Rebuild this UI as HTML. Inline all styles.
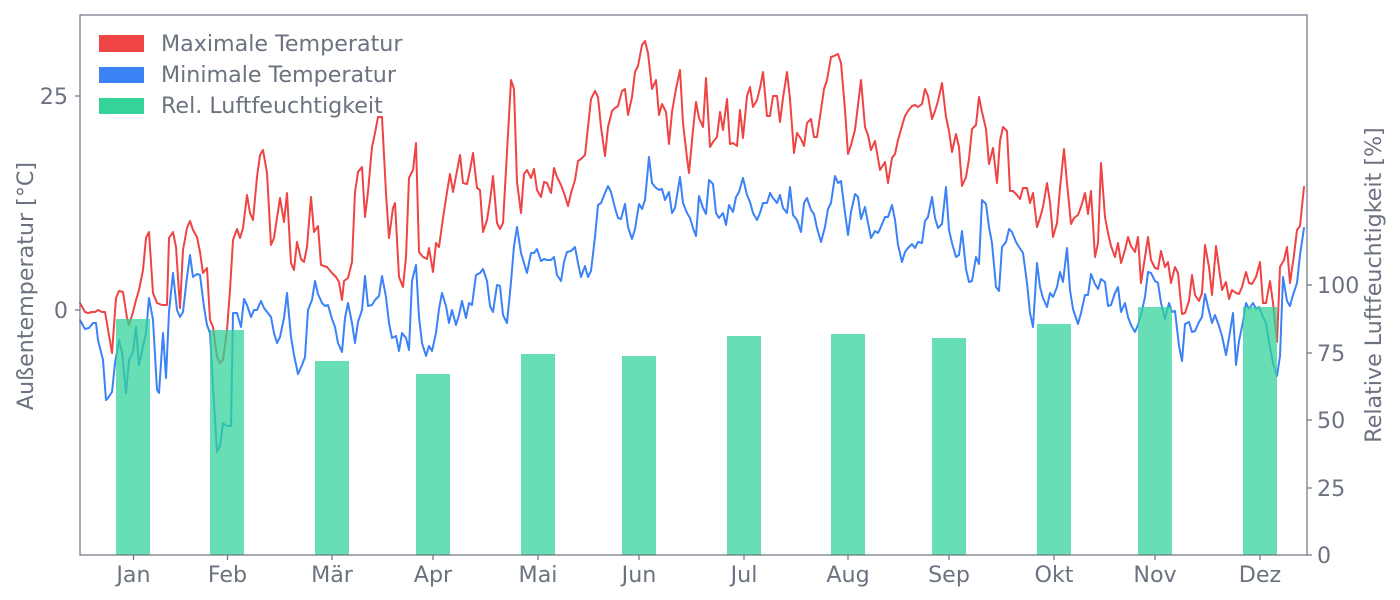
<!DOCTYPE html>
<html>
<head>
<meta charset="utf-8">
<style>
html,body{margin:0;padding:0;background:#fff;}
svg{display:block;}
text{font-family:"DejaVu Sans","Liberation Sans",sans-serif;fill:#6b7280;font-size:22.2px;}
</style>
</head>
<body>
<svg width="1400" height="600" viewBox="0 0 1400 600" xmlns="http://www.w3.org/2000/svg">
<rect x="0" y="0" width="1400" height="600" fill="#fff"/>
<!-- lines -->
<polyline fill="none" stroke="#ef4444" stroke-width="2" stroke-linejoin="round" stroke-linecap="round" points="80,303 85,312 88,313 92,312 95,312 98,310 102,312 105,312 112,353 116,298 119,291 123,292 127,318 129,325 133,312 136,300 139,290 143,270 146,238 149,232 153,293 157,303 162,305 167,305 169,238 173,232 176,247 180,308 183,250 187,228 190,221 193,230 197,237 200,252 203,273 207,268 210,320 213,327 217,357 220,363 223,360 227,330 230,290 233,240 237,229 240,238 243,228 247,195 250,213 253,220 257,177 260,155 263,150 267,173 271,245 274,238 280,198 284,222 287,193 291,263 294,270 297,242 301,259 304,262 307,247 311,197 314,232 318,226 321,265 327,267 332,273 336,277 339,282 342,300 344,281 348,278 352,262 355,192 358,172 362,167 365,217 368,192 372,147 375,133 378,117 382,117 386,193 389,238 393,208 395,203 399,277 403,287 406,257 409,178 413,170 416,143 419,252 423,257 427,259 429,248 433,272 436,243 439,247 443,218 447,192 450,174 453,192 460,155 463,183 467,184 470,170 473,153 477,188 480,190 483,232 487,220 490,201 493,176 497,223 500,229 503,223 507,152 511,80 514,89 517,182 521,213 524,174 527,170 531,178 534,169 537,190 541,197 544,182 547,183 551,193 554,168 557,177 561,185 564,193 568,206 571,193 575,180 578,161 581,159 585,155 588,127 591,99 595,91 598,97 601,127 605,156 608,127 612,111 615,108 618,106 622,91 625,89 628,115 632,97 635,72 638,66 642,45 645,41 648,53 652,89 656,80 659,115 662,104 666,112 669,144 672,112 676,89 680,70 683,123 687,158 689,173 693,130 696,102 699,118 703,127 706,78 710,147 713,142 717,137 720,112 723,130 727,99 730,144 733,143 737,146 740,110 743,138 747,96 750,87 753,107 757,100 760,88 763,72 767,116 770,116 773,96 777,96 780,122 783,98 787,72 790,99 794,153 797,133 801,139 804,146 807,123 811,119 814,137 817,137 821,110 824,89 827,80 831,57 834,56 838,54 841,63 845,110 848,154 851,145 855,130 858,105 861,80 865,127 868,135 871,150 875,141 880,170 885,162 888,183 892,158 895,154 898,140 902,126 905,116 908,111 912,106 915,105 918,107 922,104 925,89 928,96 932,119 935,111 938,101 942,83 946,117 949,131 952,152 956,134 959,147 962,186 966,177 969,159 972,129 976,125 979,97 982,112 986,129 989,164 993,148 997,183 1000,141 1003,127 1007,131 1010,191 1013,191 1017,195 1020,199 1023,188 1027,188 1030,203 1033,193 1037,227 1040,218 1043,207 1047,183 1050,202 1053,237 1057,223 1060,188 1064,149 1067,183 1071,224 1074,218 1078,215 1081,207 1085,193 1088,214 1091,191 1095,257 1098,243 1101,163 1105,217 1108,233 1111,246 1115,257 1118,243 1121,263 1125,250 1128,237 1131,246 1135,252 1138,237 1141,283 1145,257 1148,237 1151,260 1155,268 1158,269 1161,251 1165,267 1168,262 1171,283 1175,267 1178,273 1182,314 1185,313 1189,301 1192,275 1195,295 1199,301 1202,293 1205,245 1209,267 1212,295 1216,246 1219,268 1222,290 1226,282 1229,299 1232,290 1236,293 1239,294 1242,287 1246,272 1249,283 1252,284 1256,277 1260,262 1263,303 1266,303 1270,281 1273,303 1277,342 1280,267 1284,260 1287,247 1290,283 1294,255 1297,230 1300,226 1304,187"/>
<polyline fill="none" stroke="#3b82f6" stroke-width="2" stroke-linejoin="round" stroke-linecap="round" points="80,320 85,329 89,328 93,323 96,323 98,340 103,360 106,400 108,398 112,392 115,363 119,340 122,352 126,393 129,360 133,352 136,327 139,365 146,333 149,298 153,320 157,390 159,393 163,333 166,378 169,312 173,273 177,310 180,317 183,312 187,277 190,255 193,277 197,274 200,275 204,307 207,325 210,333 213,387 217,452 220,446 223,423 227,426 231,426 233,313 237,313 241,327 244,299 247,305 251,317 254,310 257,310 261,301 264,308 271,317 274,333 277,343 280,337 284,318 287,293 291,337 294,355 298,374 302,365 305,357 308,310 312,300 315,281 318,294 322,303 325,306 328,305 332,319 335,327 338,343 342,352 345,318 348,303 352,323 355,343 358,322 362,310 365,276 368,306 372,305 375,300 379,296 382,276 386,297 389,323 392,338 396,336 399,351 402,333 406,338 409,350 412,281 416,265 419,317 422,343 426,356 429,346 432,351 436,333 439,309 442,293 446,306 449,323 452,310 456,325 459,315 462,301 466,318 469,303 472,305 476,275 480,273 483,269 487,281 490,306 493,312 497,285 500,286 503,315 507,323 511,282 514,246 517,227 521,253 524,263 527,273 531,253 534,253 537,249 541,261 544,259 547,260 551,260 554,257 557,275 561,281 564,262 567,252 571,251 575,247 578,263 581,277 585,266 588,277 591,271 595,237 598,205 601,203 605,193 608,186 611,192 615,208 618,218 621,219 625,204 628,227 632,239 635,229 639,204 642,209 645,200 649,157 652,183 655,187 659,190 662,189 665,200 669,192 672,213 675,208 680,177 683,203 687,213 690,218 693,228 696,236 699,196 703,208 706,214 709,180 713,184 716,213 719,218 723,213 726,225 729,205 733,212 736,197 739,192 743,178 747,195 750,202 753,213 757,220 760,213 763,203 767,203 770,193 773,198 777,203 780,195 783,208 787,213 790,187 793,215 797,220 801,232 804,203 807,198 811,210 814,214 817,228 821,242 825,227 828,209 831,203 835,176 838,183 841,181 845,213 848,235 851,212 855,194 858,197 861,219 865,207 868,223 871,238 875,231 878,233 880,229 885,217 888,217 892,205 895,220 898,245 902,262 905,252 908,248 912,244 915,248 918,242 922,243 925,221 928,217 932,197 935,218 938,228 942,224 946,187 949,230 952,243 956,257 959,255 962,231 966,269 969,282 972,281 976,257 979,264 982,200 986,204 989,227 992,243 996,287 999,291 1002,247 1006,242 1009,229 1012,232 1016,242 1019,247 1023,253 1027,283 1030,313 1033,327 1037,263 1040,287 1043,298 1047,307 1050,293 1053,297 1057,287 1060,272 1063,282 1067,248 1070,290 1073,309 1078,324 1081,313 1085,295 1088,295 1091,274 1095,284 1098,289 1101,279 1105,282 1108,306 1111,305 1115,293 1118,287 1121,312 1125,303 1128,317 1131,325 1135,332 1138,325 1141,315 1145,297 1148,272 1151,273 1155,281 1158,283 1161,303 1165,319 1169,303 1172,312 1175,311 1179,346 1182,361 1185,324 1189,322 1192,332 1195,331 1199,322 1202,317 1205,294 1209,311 1212,323 1215,315 1219,326 1222,336 1226,355 1229,338 1233,313 1236,365 1239,341 1243,322 1246,303 1249,309 1253,303 1256,309 1259,307 1263,317 1266,323 1269,342 1273,363 1277,376 1280,356 1283,277 1287,301 1290,306 1293,295 1297,283 1300,255 1304,228"/>
<!-- bars -->
<g fill="#34d399" fill-opacity="0.75">
<rect x="116" y="319" width="34" height="236"/>
<rect x="210" y="330" width="34" height="225"/>
<rect x="315" y="361" width="34" height="194"/>
<rect x="416" y="374" width="34" height="181"/>
<rect x="521" y="354" width="34" height="201"/>
<rect x="622" y="356" width="34" height="199"/>
<rect x="727" y="336" width="34" height="219"/>
<rect x="831" y="334" width="34" height="221"/>
<rect x="932" y="338" width="34" height="217"/>
<rect x="1037" y="324" width="34" height="231"/>
<rect x="1138" y="307" width="34" height="248"/>
<rect x="1243" y="307" width="34" height="248"/>
</g>
<!-- frame -->
<rect x="80" y="15" width="1227" height="540" fill="none" stroke="#6b7280" stroke-width="1.2"/>
<!-- ticks -->
<g stroke="#6b7280" stroke-width="1.2">
<line x1="75" y1="96" x2="80" y2="96"/>
<line x1="75" y1="310" x2="80" y2="310"/>
<line x1="1307" y1="285" x2="1312" y2="285"/>
<line x1="1307" y1="353" x2="1312" y2="353"/>
<line x1="1307" y1="420" x2="1312" y2="420"/>
<line x1="1307" y1="488" x2="1312" y2="488"/>
<line x1="1307" y1="555" x2="1312" y2="555"/>
<line x1="133.5" y1="555" x2="133.5" y2="560"/>
<line x1="227.5" y1="555" x2="227.5" y2="560"/>
<line x1="332" y1="555" x2="332" y2="560"/>
<line x1="433" y1="555" x2="433" y2="560"/>
<line x1="538" y1="555" x2="538" y2="560"/>
<line x1="639" y1="555" x2="639" y2="560"/>
<line x1="744" y1="555" x2="744" y2="560"/>
<line x1="848" y1="555" x2="848" y2="560"/>
<line x1="949" y1="555" x2="949" y2="560"/>
<line x1="1054" y1="555" x2="1054" y2="560"/>
<line x1="1155" y1="555" x2="1155" y2="560"/>
<line x1="1260" y1="555" x2="1260" y2="560"/>
</g>
<!-- tick labels -->
<g text-anchor="end">
<text x="68" y="104">25</text>
<text x="68" y="318">0</text>
</g>
<g text-anchor="start">
<text x="1317" y="293">100</text>
<text x="1317" y="361">75</text>
<text x="1317" y="428">50</text>
<text x="1317" y="496">25</text>
<text x="1317" y="563">0</text>
</g>
<g text-anchor="middle">
<text x="133.5" y="582">Jan</text>
<text x="227.5" y="582">Feb</text>
<text x="332" y="582">Mär</text>
<text x="433" y="582">Apr</text>
<text x="538" y="582">Mai</text>
<text x="639" y="582">Jun</text>
<text x="744" y="582">Jul</text>
<text x="848" y="582">Aug</text>
<text x="949" y="582">Sep</text>
<text x="1054" y="582">Okt</text>
<text x="1155" y="582">Nov</text>
<text x="1260" y="582">Dez</text>
</g>
<!-- axis titles -->
<text transform="translate(33,286) rotate(-90)" text-anchor="middle">Außentemperatur [°C]</text>
<text transform="translate(1381,285) rotate(-90)" text-anchor="middle">Relative Luftfeuchtigkeit [%]</text>
<!-- legend -->
<rect x="99" y="35" width="45" height="17" fill="#ef4444"/>
<rect x="99" y="67" width="45" height="16" fill="#3b82f6"/>
<rect x="99" y="98" width="45" height="16" fill="#34d399"/>
<text x="161" y="51">Maximale Temperatur</text>
<text x="161" y="82">Minimale Temperatur</text>
<text x="161" y="113">Rel. Luftfeuchtigkeit</text>
</svg>
</body>
</html>
